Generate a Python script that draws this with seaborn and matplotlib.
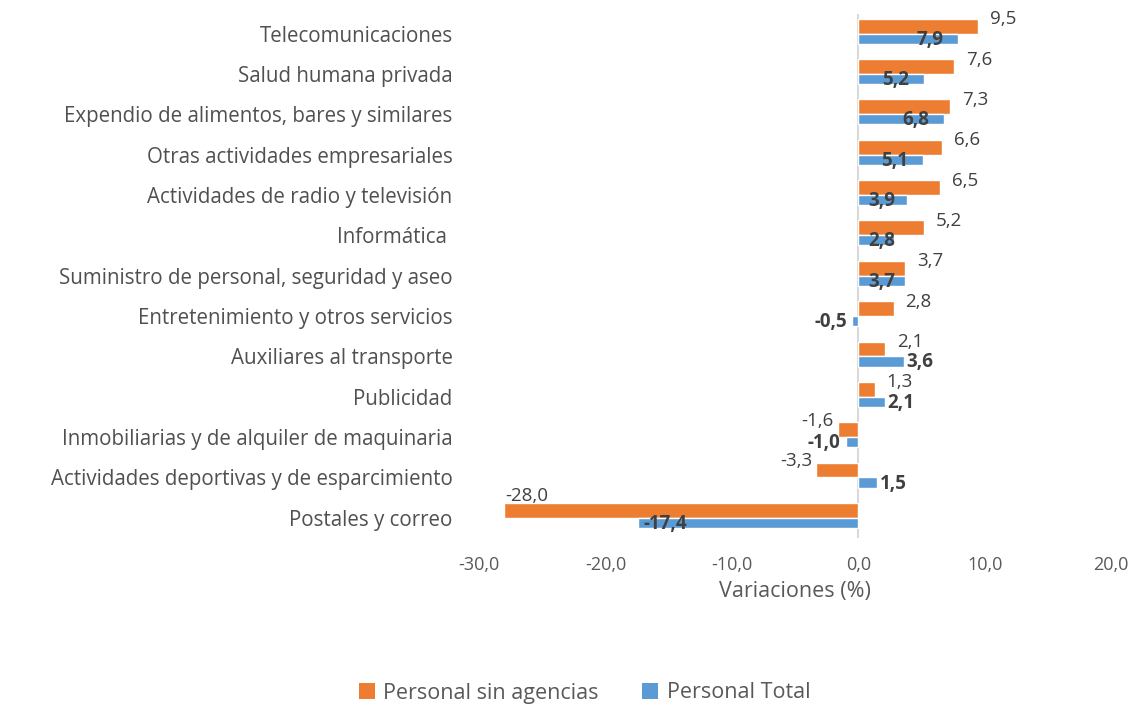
import matplotlib
matplotlib.use("Agg")
import matplotlib.pyplot as plt
import seaborn as sns
import pandas as pd
from matplotlib.patches import Patch

categories = [
    "Telecomunicaciones",
    "Salud humana privada",
    "Expendio de alimentos, bares y similares",
    "Otras actividades empresariales",
    "Actividades de radio y televisión",
    "Informática ",
    "Suministro de personal, seguridad y aseo",
    "Entretenimiento y otros servicios",
    "Auxiliares al transporte",
    "Publicidad",
    "Inmobiliarias y de alquiler de maquinaria",
    "Actividades deportivas y de esparcimiento",
    "Postales y correo",
]
sin_agencias = [9.5, 7.6, 7.3, 6.6, 6.5, 5.2, 3.7, 2.8, 2.1, 1.3, -1.6, -3.3, -28.0]
total = [7.9, 5.2, 6.8, 5.1, 3.9, 2.8, 3.7, -0.5, 3.6, 2.1, -1.0, 1.5, -17.4]
series_names = ["Personal sin agencias", "Personal Total"]
xticks = [-30, -20, -10, 0, 10, 20]

# label placement style for blue labels
blue_side = ["in", "in", "in", "in", "in", "in", "in", "out", "out", "out", "out", "out", "base"]

ORANGE = "#ED7D31"
BLUE = "#5B9BD5"
TXT = "#404040"
GRAY = "#595959"

df = pd.DataFrame({
    "Sector": categories * 2,
    "Valor": sin_agencias + total,
    "Serie": [series_names[0]] * len(categories) + [series_names[1]] * len(categories),
})

sns.set_theme(style="white")
plt.rcParams["font.family"] = ["Open Sans", "DejaVu Sans"]

fig = plt.figure(figsize=(11.35, 7.06), dpi=100)
ax = fig.add_axes([479 / 1135, 1 - 538 / 706, (1111 - 479) / 1135, (538 - 13.5) / 706])

sns.barplot(data=df, y="Sector", x="Valor", hue="Serie", orient="h",
            palette=[ORANGE, BLUE], width=0.74, dodge=True, ax=ax,
            legend=False, saturation=1)

# blue bars slightly thinner (visible part under orange overlap)
for p in ax.containers[1]:
    p.set_height(0.25)

ax.set_xlim(-30, 20)
ax.set_ylim(len(categories) - 0.5, -0.5)
ax.set_xticks(xticks)
ax.set_xticklabels([f"{t:.1f}".replace(".", ",") for t in xticks], fontsize=13, color=GRAY)
ax.tick_params(axis="x", length=0, pad=13)
ax.tick_params(axis="y", length=0, pad=19)
for lab in ax.get_yticklabels():
    lab.set_fontsize(14.8)
    lab.set_color("#505050")
ax.set_ylabel("")
ax.set_xlabel("Variaciones (%)", fontsize=15.5, color=GRAY, labelpad=5)
for s in ax.spines.values():
    s.set_visible(False)
ax.axvline(0, color="#D9D9D9", lw=1.5, zorder=0)

units_per_px = 50 / (1111 - 479)
PT = 0.72  # points per pixel at 100 dpi
FS = 13.5

def fmt(v):
    return f"{v:.1f}".replace(".", ",")

for i, v in enumerate(sin_agencias):
    yc = i - 0.185
    if v >= 0:
        ax.annotate(fmt(v), (v, yc), xytext=(12 * PT, 7 * PT), textcoords="offset points",
                    ha="left", va="center", fontsize=FS, color=TXT)
    elif v < -20:
        ax.annotate(fmt(v), (v, yc), xytext=(22 * PT, 14 * PT), textcoords="offset points",
                    ha="center", va="center", fontsize=FS, color=TXT)
    else:
        ax.annotate(fmt(v), (v, yc), xytext=(-4 * PT, 9 * PT), textcoords="offset points",
                    ha="right", va="center", fontsize=FS, color=TXT)

for i, v in enumerate(total):
    yc = i + 0.15
    side = blue_side[i]
    if side == "in":
        xc = max(v - 28 * units_per_px, 24 * units_per_px)
        ax.text(xc, yc, fmt(v), ha="center", va="center", fontsize=FS,
                fontweight="bold", color=TXT)
    elif side == "out":
        if v >= 0:
            ax.annotate(fmt(v), (v, yc), xytext=(3 * PT, 0), textcoords="offset points",
                        ha="left", va="center", fontsize=FS, fontweight="bold", color=TXT)
        else:
            ax.annotate(fmt(v), (v, yc), xytext=(-5 * PT, 0), textcoords="offset points",
                        ha="right", va="center", fontsize=FS, fontweight="bold", color=TXT)
    else:
        ax.annotate(fmt(v), (v, yc), xytext=(5 * PT, 0), textcoords="offset points",
                    ha="left", va="center", fontsize=FS, fontweight="bold", color=TXT)

handles = [Patch(facecolor=ORANGE, edgecolor="none"), Patch(facecolor=BLUE, edgecolor="none")]
leg = fig.legend(handles, series_names, loc="center", bbox_to_anchor=(0.515, 1 - 693 / 706),
                 ncol=2, frameon=False, fontsize=15.5, handlelength=0.75, handleheight=0.75,
                 handletextpad=0.4, columnspacing=2.0)
for t in leg.get_texts():
    t.set_color(GRAY)

fig.savefig("out.png", dpi=100)
